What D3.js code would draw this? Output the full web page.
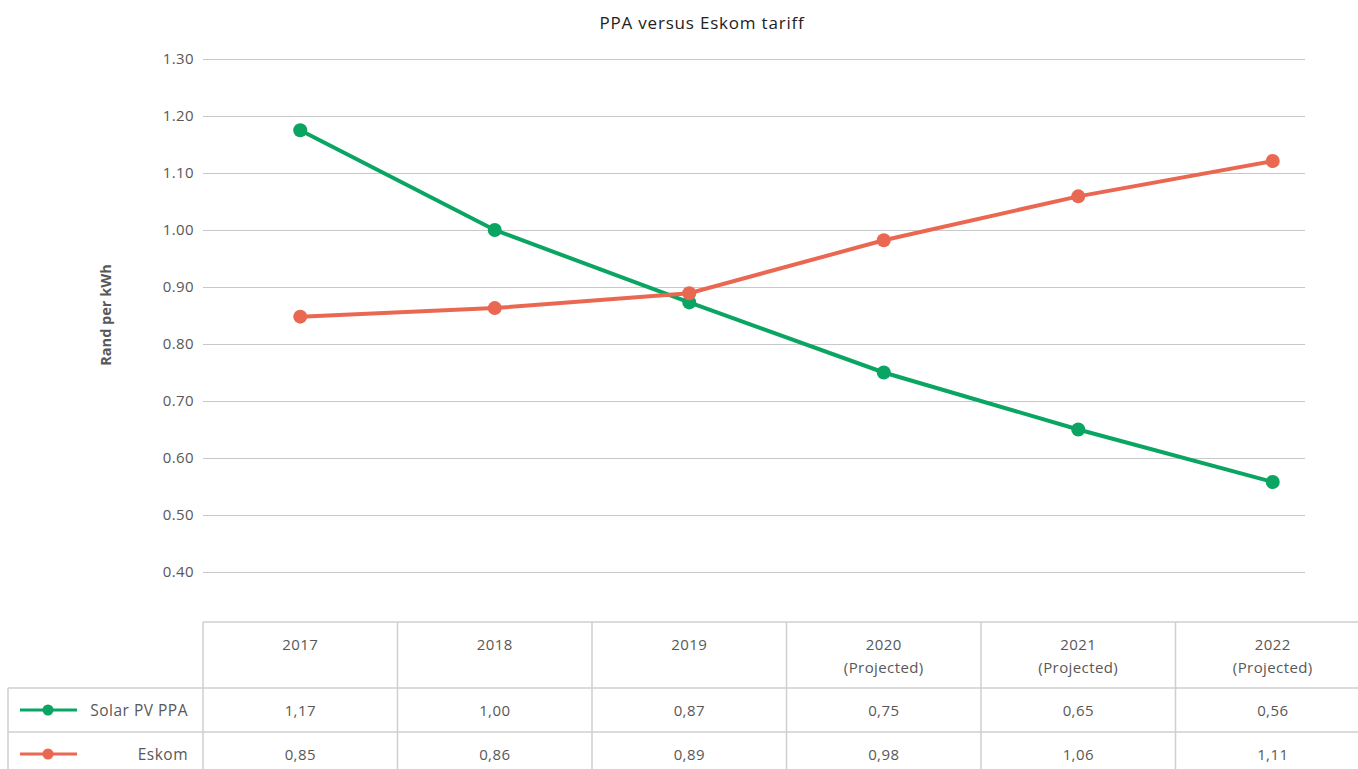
<!DOCTYPE html>
<html>
<head>
<meta charset="utf-8">
<script src="https://cdn.jsdelivr.net/npm/d3@7"></script>
<style>
  body { margin: 0; background: #fff; font-family: "Open Sans", sans-serif; }
  #chart svg { display: block; }
</style>
</head>
<body>
<div id="chart"></div>
<script>
// data
const years = ['2017', '2018', '2019', '2020', '2021', '2022'];
const yearNotes = ['', '', '', '(Projected)', '(Projected)', '(Projected)'];
const solarValues = [1.175, 1.00, 0.873, 0.75, 0.65, 0.558];
const eskomValues = [0.848, 0.863, 0.889, 0.982, 1.059, 1.121];
const solarLabels = ['1,17', '1,00', '0,87', '0,75', '0,65', '0,56'];
const eskomLabels = ['0,85', '0,86', '0,89', '0,98', '1,06', '1,11'];
const yTicks = [0.4, 0.5, 0.6, 0.7, 0.8, 0.9, 1.0, 1.1, 1.2, 1.3];

const series = [
  { name: 'Solar PV PPA', values: solarValues, labels: solarLabels, color: '#0aa562' },
  { name: 'Eskom', values: eskomValues, labels: eskomLabels, color: '#ea6851' },
];

const width = 1358;
const height = 769;
const plot = { left: 203, right: 1305, top: 59, bottom: 572 };
const table = { left: 203, colWidth: 194.5, top: 622, headH: 66, rowH: 44, legendLeft: 8 };
const textColor = '#585858';

const svg = d3.select('#chart')
  .append('svg')
  .attr('width', width)
  .attr('height', height);

const xScale = d3.scaleBand()
  .domain(years)
  .range([table.left, table.left + table.colWidth * years.length]);

const yScale = d3.scaleLinear()
  .domain([0.4, 1.3])
  .range([plot.bottom, plot.top]);

// title
svg.append('text')
  .attr('x', 702)
  .attr('y', 29)
  .attr('text-anchor', 'middle')
  .attr('font-size', 17)
  .attr('letter-spacing', 0.8)
  .attr('fill', '#222')
  .text('PPA versus Eskom tariff');

// y title
svg.append('text')
  .attr('transform', `translate(111, 315) rotate(-90)`)
  .attr('text-anchor', 'middle')
  .attr('font-size', 14.5)
  .attr('font-weight', 'bold')
  .attr('fill', textColor)
  .text('Rand per kWh');

// gridlines + y axis
const yAxis = d3.axisLeft(yScale)
  .tickValues(yTicks)
  .tickSize(-(plot.right - plot.left))
  .tickPadding(9)
  .tickFormat(d3.format('.2f'));

const yg = svg.append('g')
  .attr('transform', `translate(${plot.left}, 0)`)
  .call(yAxis);
yg.select('.domain').remove();
yg.selectAll('.tick line').attr('stroke', '#c8c8c8').attr('stroke-width', 1.2);
yg.selectAll('.tick text')
  .attr('fill', textColor)
  .attr('font-size', 15)
  .attr('letter-spacing', 0.4)
  .attr('font-family', '"Open Sans", sans-serif');

// lines
const line = d3.line()
  .x((d, i) => xScale(years[i]) + xScale.bandwidth() / 2)
  .y(d => yScale(d));

series.forEach(s => {
  svg.append('path')
    .datum(s.values)
    .attr('fill', 'none')
    .attr('stroke', s.color)
    .attr('stroke-width', 4)
    .attr('d', line);
  svg.append('g')
    .selectAll('circle')
    .data(s.values)
    .join('circle')
    .attr('cx', (d, i) => xScale(years[i]) + xScale.bandwidth() / 2)
    .attr('cy', d => yScale(d))
    .attr('r', 7)
    .attr('fill', s.color);
});

// data table
const grid = svg.append('g')
  .attr('stroke', '#cfcfcf')
  .attr('stroke-width', 1.5)
  .attr('fill', 'none');

const tableRight = table.left + table.colWidth * years.length;
const rowsTop = table.top + table.headH;
const tableBottom = rowsTop + table.rowH * series.length;

// horizontal borders
grid.append('line').attr('x1', table.left).attr('x2', tableRight).attr('y1', table.top).attr('y2', table.top);
d3.range(series.length).forEach(i => {
  const y = rowsTop + table.rowH * i;
  grid.append('line').attr('x1', table.legendLeft).attr('x2', tableRight).attr('y1', y).attr('y2', y);
});
// vertical borders
grid.append('line').attr('x1', table.legendLeft).attr('x2', table.legendLeft).attr('y1', rowsTop).attr('y2', tableBottom);
years.forEach(y => {
  const x = xScale(y);
  grid.append('line').attr('x1', x).attr('x2', x).attr('y1', table.top).attr('y2', tableBottom);
});

// header
const head = svg.append('g')
  .attr('font-size', 15)
  .attr('letter-spacing', 0.4)
  .attr('fill', textColor)
  .attr('text-anchor', 'middle');
years.forEach((y, i) => {
  const cx = xScale(y) + xScale.bandwidth() / 2;
  head.append('text').attr('x', cx).attr('y', table.top + 28).text(y);
  if (yearNotes[i]) head.append('text').attr('x', cx).attr('y', table.top + 51).text(yearNotes[i]);
});

// rows
series.forEach((s, r) => {
  const cy = rowsTop + table.rowH * r + table.rowH / 2;
  const g = svg.append('g');
  g.append('line')
    .attr('x1', 20).attr('x2', 77).attr('y1', cy).attr('y2', cy)
    .attr('stroke', s.color).attr('stroke-width', 3);
  g.append('circle').attr('cx', 48).attr('cy', cy).attr('r', 5.5).attr('fill', s.color);
  g.append('text')
    .attr('x', 188)
    .attr('y', cy + 5.5)
    .attr('text-anchor', 'end')
    .attr('font-size', 15.5)
    .attr('letter-spacing', 0.5)
    .attr('fill', textColor)
    .text(s.name);
  g.selectAll('text.val')
    .data(s.labels)
    .join('text')
    .attr('class', 'val')
    .attr('x', (d, i) => xScale(years[i]) + xScale.bandwidth() / 2)
    .attr('y', cy + 5.5)
    .attr('text-anchor', 'middle')
    .attr('font-size', 15)
    .attr('letter-spacing', 0.4)
    .attr('fill', textColor)
    .text(d => d);
});
</script>
</body>
</html>
